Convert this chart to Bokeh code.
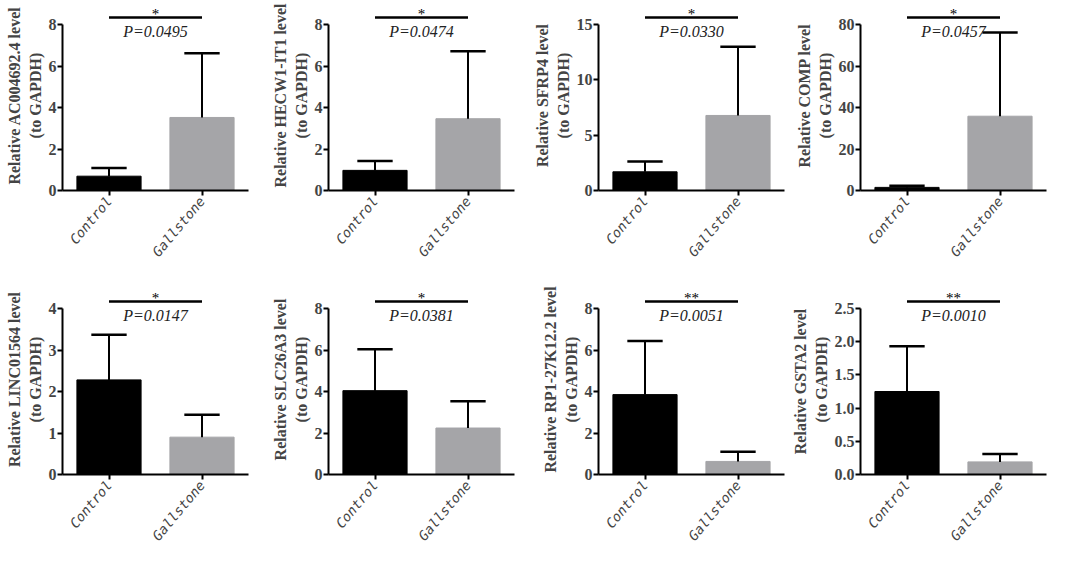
import numpy as np
from bokeh.plotting import figure
from bokeh.layouts import column, row
from bokeh.models import Range1d, FixedTicker, PrintfTickFormatter
from bokeh.core.properties import value
from bokeh.embed import file_html
from bokeh.resources import INLINE

# ---------------- data ----------------
genes = ["AC004692.4", "HECW1-IT1", "SFRP4", "COMP",
         "LINC01564", "SLC26A3", "RP1-27K12.2", "GSTA2"]
y_labels = ["Relative AC004692.4 level", "Relative HECW1-IT1 level",
            "Relative SFRP4 level", "Relative COMP level",
            "Relative LINC01564 level", "Relative SLC26A3 level",
            "Relative RP1-27K12.2 level", "Relative GSTA2  level"]
groups = ["Control", "Gallstone"]
control_mean = [0.69, 0.97, 1.69, 1.5, 2.28, 4.04, 3.85, 1.25]
control_sd = [0.40, 0.45, 0.94, 0.8, 1.09, 2.00, 2.58, 0.68]
gallstone_mean = [3.52, 3.46, 6.78, 35.8, 0.90, 2.24, 0.63, 0.19]
gallstone_sd = [3.09, 3.25, 6.21, 40.3, 0.54, 1.29, 0.47, 0.12]
y_max = [8, 8, 15, 80, 4, 8, 8, 2.5]
y_step = [2, 2, 5, 20, 1, 2, 2, 0.5]
p_values = ["P=0.0495", "P=0.0474", "P=0.0330", "P=0.0457",
            "P=0.0147", "P=0.0381", "P=0.0051", "P=0.0010"]
stars = ["*", "*", "*", "*", "*", "*", "**", "**"]

# ---------------- layout / style ----------------
col_widths = [266, 262, 257, 264]
col_border_left = [62, 62, 70, 75]
FRAME_W = 186
AXIS_H = 166
HEAD = 24
row_heights = [267, 284]
row_border_top = [0, 17]
GRAY = "#a5a5a8"
SERIF = "Liberation Serif"


def make_panel(i):
    r, c = divmod(i, 4)
    W = col_widths[c]
    L = col_border_left[c]
    R = W - L - FRAME_W
    T = row_border_top[r]
    F = AXIS_H + HEAD
    H = row_heights[r]
    B = H - T - F
    ymax = y_max[i]
    top = ymax * F / AXIS_H
    xs = list(range(1, len(groups) + 1))

    p = figure(width=W, height=H, output_backend="svg", toolbar_location=None,
               x_range=Range1d(0.5, len(groups) + 0.5), y_range=Range1d(0, top),
               min_border_left=L, min_border_right=R, min_border_top=T,
               min_border_bottom=B, background_fill_color="white",
               border_fill_color="white")
    p.outline_line_color = None
    p.grid.visible = False

    means = [control_mean[i], gallstone_mean[i]]
    sds = [control_sd[i], gallstone_sd[i]]
    uppers = [m + s for m, s in zip(means, sds)]

    p.vbar(x=xs, top=means, bottom=0, width=0.69,
           fill_color=["black", GRAY], line_color=["black", GRAY], line_width=1)
    p.segment(x0=xs, y0=means, x1=xs, y1=uppers, line_color="black", line_width=2)
    p.segment(x0=[x - 0.19 for x in xs], y0=uppers, x1=[x + 0.19 for x in xs],
              y1=uppers, line_color="black", line_width=2.5)

    # significance annotation
    p.segment(x0=[xs[0]], y0=[ymax * (1 + 7 / AXIS_H)], x1=[xs[1]],
              y1=[ymax * (1 + 7 / AXIS_H)], line_color="black", line_width=2.5)
    p.text(x=[(xs[0] + xs[1]) / 2], y=[ymax * (1 + 11 / AXIS_H)], text=[stars[i]],
           text_font=value(SERIF), text_font_size="15px", text_align="center",
           text_baseline="middle", text_color="black")
    p.text(x=[(xs[0] + xs[1]) / 2], y=[ymax * (1 - 7 / AXIS_H)], text=[p_values[i]],
           text_font=value(SERIF), text_font_style="italic", text_font_size="16px",
           text_align="center", text_baseline="middle", text_color="#222222")

    # y axis
    ya = p.yaxis[0]
    ya.bounds = (0, ymax)
    ya.ticker = FixedTicker(ticks=list(np.arange(0, ymax + y_step[i] / 2, y_step[i])))
    ya.formatter = PrintfTickFormatter(format="%.1f" if y_step[i] < 1 else "%d")
    ya.axis_label = y_labels[i] + "\n(to GAPDH)"
    ya.axis_label_text_font = SERIF
    ya.axis_label_text_font_style = "bold"
    ya.axis_label_text_font_size = "16px"
    ya.axis_label_standoff = 2
    ya.major_label_text_font = SERIF
    ya.major_label_text_font_style = "bold"
    ya.major_label_text_font_size = "16px"
    ya.major_label_standoff = 1
    ya.axis_line_width = 2
    ya.major_tick_line_width = 2
    ya.major_tick_out = 5
    ya.major_tick_in = 0
    ya.minor_tick_line_color = None

    # x axis
    xa = p.xaxis[0]
    xa.ticker = FixedTicker(ticks=xs)
    xa.major_label_overrides = {x: g for x, g in zip(xs, groups)}
    xa.major_label_orientation = 0.87
    xa.major_label_text_font = "DejaVu Sans Mono"
    xa.major_label_text_font_style = "italic"
    xa.major_label_text_font_size = "13.5px"
    xa.major_label_standoff = 3
    xa.axis_line_width = 2
    xa.major_tick_line_width = 2
    xa.major_tick_out = 5
    xa.major_tick_in = 0
    xa.minor_tick_line_color = None
    return p


panels = [make_panel(i) for i in range(len(genes))]
layout = column(row(*panels[:4]), row(*panels[4:]))

open("out.html", "w").write(file_html(layout, INLINE))
